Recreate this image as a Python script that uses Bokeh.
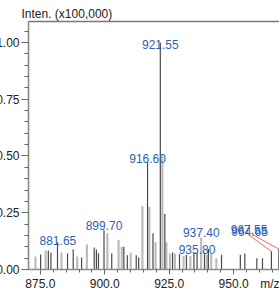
from bokeh.plotting import figure
from bokeh.models import (Range1d, LinearAxis, SingleIntervalTicker, FixedTicker,
                          NumeralTickFormatter, ColumnDataSource)
from bokeh.core.properties import value
from bokeh.embed import file_html
from bokeh.resources import INLINE
import math

# ---- data (m/z, relative intensity x100,000, trace kind) ----
mz = [873.1, 875.1, 877.05, 878.1, 879.1, 881.65, 883.2, 885.55, 887.75, 889.3,
      891.0, 893.05, 895.9, 896.75, 897.55, 899.70, 901.0, 902.7, 905.35, 906.6,
      907.4, 908.75, 910.05, 912.2, 913.15, 914.6, 916.60, 917.3, 918.7, 919.7,
      921.55, 922.35, 923.3, 923.9, 925.3, 926.3, 927.2, 929.0, 930.6, 931.7,
      933.2, 934.6, 935.80, 937.40, 938.7, 939.6, 940.2, 941.3, 943.3, 945.3,
      952.6, 954.35, 959.0, 961.2, 964.65, 967.55]
inten = [0.057, 0.066, 0.084, 0.084, 0.075, 0.120, 0.075, 0.070, 0.088, 0.057,
         0.053, 0.110, 0.097, 0.088, 0.072, 0.173, 0.160, 0.070, 0.130, 0.100,
         0.100, 0.063, 0.075, 0.063, 0.053, 0.280, 0.470, 0.275, 0.160, 0.120,
         1.000, 0.500, 0.245, 0.120, 0.070, 0.075, 0.070, 0.068, 0.060, 0.065,
         0.060, 0.075, 0.075, 0.140, 0.075, 0.065, 0.090, 0.070, 0.050, 0.065,
         0.065, 0.070, 0.050, 0.050, 0.080, 0.090]
kind = ["l", "d", "l", "d", "d", "d", "l", "d", "d", "l",
        "d", "l", "d", "d", "d", "d", "l", "d", "l", "l",
        "d", "d", "l", "d", "d", "l", "d", "l", "d", "l",
        "d", "l", "d", "l", "l", "d", "l", "d", "l", "d",
        "l", "d", "d", "l", "d", "l", "d", "l", "l", "d",
        "d", "d", "d", "d", "d", "d"]

# peak annotations
label_text = ["881.65", "899.70", "916.60", "921.55", "937.40", "935.80", "964.65", "967.55"]
label_x = [881.8, 899.7, 916.6, 921.55, 937.45, 935.8, 956.2, 956.0]
label_y = [0.129, 0.195, 0.487, 0.993, 0.163, 0.088, 0.167, 0.176]

# leader lines from displaced labels to their peaks
leader_peak = [964.65, 967.55]
leader_x0 = [956.1, 957.3]
leader_y0 = [0.150, 0.154]

x_major_step = 25
x_minor_step = 5
y_ticks_interval = 0.25
x_start, x_end = 870.4, 967.8
y_start, y_end = 0.0, 1.0925
x_unit = "m/z"
y_unit = "Inten. (x100,000)"

font = "Liberation Sans"

# ---- figure ----
p = figure(frame_width=251, frame_height=248,
           x_range=Range1d(x_start, x_end), y_range=Range1d(y_start, y_end),
           output_backend="svg", toolbar_location=None,
           min_border_left=0, min_border_right=0,
           min_border_top=0, min_border_bottom=22,
           title=y_unit,
           margin=(4, 0, 0, -7))
p.title.text_font = font
p.title.text_font_size = "12px"
p.title.text_font_style = "normal"
p.title.text_color = "#222222"
p.title.align = "left"
p.title.offset = -7
p.title.standoff = 1
p.outline_line_color = None
p.grid.visible = False
p.background_fill_color = "white"
p.border_fill_color = "white"

axis_col = "#8a8a8a"

# x ticks: major every 25, minor every 5, plus the unit label at the right end
first_major = math.ceil(x_start / x_major_step) * x_major_step
majors = [float(first_major + i * x_major_step)
          for i in range(int((x_end - first_major) // x_major_step) + 1)]
first_minor = math.ceil(x_start / x_minor_step) * x_minor_step
minors = [float(first_minor + i * x_minor_step)
          for i in range(int((x_end - first_minor) // x_minor_step) + 1)]

xa = p.xaxis[0]
xa.ticker = FixedTicker(ticks=majors + [x_end], minor_ticks=minors)
xa.formatter = NumeralTickFormatter(format="0.0")
xa.major_label_overrides = {x_end: x_unit}
ya = p.yaxis[0]
ya.ticker = SingleIntervalTicker(interval=y_ticks_interval, num_minor_ticks=5)
ya.formatter = NumeralTickFormatter(format="0.00")
for ax in (xa, ya):
    ax.axis_line_color = axis_col
    ax.axis_line_width = 1.6
    ax.major_tick_line_color = "#666666"
    ax.minor_tick_line_color = "#666666"
    ax.major_tick_in = 0
    ax.minor_tick_in = 0
    ax.major_label_text_font = font
    ax.major_label_text_font_size = "12px"
    ax.major_label_text_color = "#222222"
    ax.major_label_standoff = 2
xa.major_tick_out = 5
xa.minor_tick_out = 3
ya.major_tick_out = 7
ya.minor_tick_out = 4

# top border line (axis without ticks or labels)
top = LinearAxis(ticker=FixedTicker(ticks=[], minor_ticks=[]),
                 axis_line_color="#777777", axis_line_width=1.4,
                 major_tick_line_color=None, minor_tick_line_color=None,
                 major_label_standoff=0)
p.add_layout(top, "above")

# ---- peaks ----
dx = [m for m, k in zip(mz, kind) if k == "d"]
dy = [v for v, k in zip(inten, kind) if k == "d"]
lxs = [m for m, k in zip(mz, kind) if k == "l"]
lys = [v for v, k in zip(inten, kind) if k == "l"]
src_l = ColumnDataSource(dict(x=lxs, y0=[0] * len(lxs), y1=lys))
src_d = ColumnDataSource(dict(x=dx, y0=[0] * len(dx), y1=dy))
p.segment(x0="x", y0="y0", x1="x", y1="y1", source=src_l,
          line_color="#bcbcbc", line_width=2.2)
p.segment(x0="x", y0="y0", x1="x", y1="y1", source=src_d,
          line_color="#4a4a4a", line_width=1.2)

# leader lines
ly1 = [inten[mz.index(m)] for m in leader_peak]
p.segment(x0=leader_x0, y0=leader_y0, x1=leader_peak, y1=ly1,
          line_color="#f06a6a", line_width=1)

# peak labels
p.text(x=label_x, y=label_y, text=label_text,
       text_font=value(font), text_font_size="12px",
       text_color="#2d5fb5", text_align="center", text_baseline="middle")

open("out.html", "w").write(file_html(p, INLINE))
